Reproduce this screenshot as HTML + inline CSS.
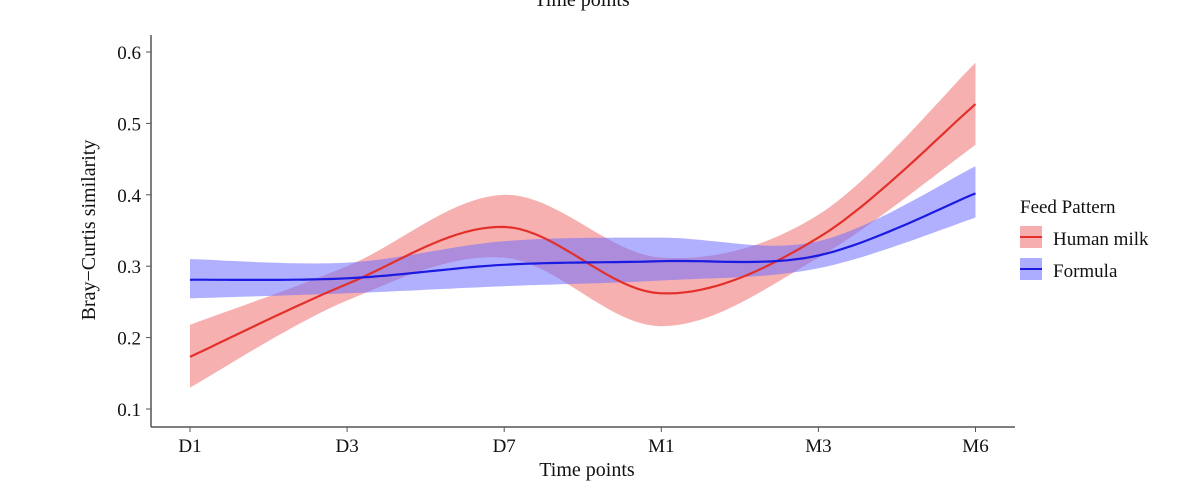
<!DOCTYPE html>
<html><head><meta charset="utf-8"><style>
html,body{margin:0;padding:0;background:#fff;width:1200px;height:499px;overflow:hidden}
svg text{font-family:"Liberation Serif",serif;fill:#111}
</style></head><body>
<svg id="chart" width="1200" height="499" xmlns="http://www.w3.org/2000/svg">
<text x="582" y="6" font-size="20" text-anchor="middle">Time points</text>
<g id="plot"></g>
<line x1="151" y1="35" x2="151" y2="427" stroke="#555" stroke-width="1.5"/>
<line x1="151" y1="427" x2="1015" y2="427" stroke="#555" stroke-width="1.5"/>
<g id="yticks"></g>
<g id="xticks"></g>
<text x="587" y="476" font-size="20" text-anchor="middle">Time points</text>
<text transform="translate(95,230) rotate(-90)" font-size="20" text-anchor="middle">Bray−Curtis similarity</text>
<g>
<text x="1020" y="213" font-size="19">Feed Pattern</text>
<g>
<rect x="1020" y="226" width="22" height="22" fill="#ee7777" opacity="0.6"/>
<line x1="1020" y1="237" x2="1042" y2="237" stroke="#e3302b" stroke-width="2"/>
<text x="1053" y="245" font-size="19">Human milk</text></g>
<g>
<rect x="1020" y="258" width="22" height="22" fill="#7777ff" opacity="0.6"/>
<line x1="1020" y1="269" x2="1042" y2="269" stroke="#1a1ae0" stroke-width="2"/>
<text x="1053" y="277" font-size="19">Formula</text></g>
</g>
</svg>
<script>
const categories=["D1","D3","D7","M1","M3","M6"];
const yTicks=[0.1,0.2,0.3,0.4,0.5,0.6];
const milkMean=[0.173,0.275,0.355,0.262,0.34,0.527];
const milkLow=[0.130,0.252,0.312,0.216,0.312,0.470];
const milkHigh=[0.218,0.300,0.400,0.312,0.372,0.585];
const formMean=[0.281,0.283,0.302,0.307,0.315,0.402];
const formLow=[0.255,0.262,0.272,0.280,0.297,0.368];
const formHigh=[0.310,0.305,0.335,0.340,0.335,0.440];

const X0=190,XS=157.1;
function xScale(i){return X0+i*XS;}
function yScale(v){return 409-(v-0.1)*714;}
const NS="http://www.w3.org/2000/svg";
function smooth(vals){
  const p=vals.map((v,i)=>[xScale(i),yScale(v)]);
  const out=[];
  for(let i=0;i<p.length-1;i++){
    const p0=p[Math.max(0,i-1)],p1=p[i],p2=p[i+1],p3=p[Math.min(p.length-1,i+2)];
    for(let t=0;t<1;t+=0.05){
      const t2=t*t,t3=t2*t;
      const f=(a,b,c,d)=>0.5*(2*b+(-a+c)*t+(2*a-5*b+4*c-d)*t2+(-a+3*b-3*c+d)*t3);
      out.push([f(p0[0],p1[0],p2[0],p3[0]),f(p0[1],p1[1],p2[1],p3[1])]);
    }
  }
  out.push(p[p.length-1]);return out;
}
const plot=document.getElementById('plot');
function band(lo,hi,fill,name){
  const a=smooth(hi),b=smooth(lo).reverse();
  const el=document.createElementNS(NS,'path');
  el.setAttribute('d','M'+a.concat(b).map(q=>q[0].toFixed(1)+','+q[1].toFixed(1)).join('L')+'Z');
  el.setAttribute('fill',fill);el.setAttribute('opacity','0.55');
  
  
  plot.appendChild(el);
}
function line(vals,stroke,name){
  const el=document.createElementNS(NS,'path');
  el.setAttribute('d','M'+smooth(vals).map(q=>q[0].toFixed(1)+','+q[1].toFixed(1)).join('L'));
  el.setAttribute('fill','none');el.setAttribute('stroke',stroke);el.setAttribute('stroke-width','2.2');
  
  
  plot.appendChild(el);
}
band(milkLow,milkHigh,'#ee7070','human-milk-ci-band');
band(formLow,formHigh,'#7070ff','formula-ci-band');
line(milkMean,'#e3302b','human-milk-line');
line(formMean,'#1a1ae0','formula-line');
const yt=document.getElementById('yticks');
yTicks.forEach(v=>{
  const y=yScale(v);
  const l=document.createElementNS(NS,'line');
  l.setAttribute('x1',146);l.setAttribute('x2',151);l.setAttribute('y1',y);l.setAttribute('y2',y);l.setAttribute('stroke','#555');
  
  
  yt.appendChild(l);
  const t=document.createElementNS(NS,'text');
  t.setAttribute('x',141);t.setAttribute('y',y+7);t.setAttribute('font-size','19');t.setAttribute('text-anchor','end');
  t.textContent=v.toFixed(1);
  
  
  yt.appendChild(t);
});
const xt=document.getElementById('xticks');
categories.forEach((c,i)=>{
  const x=xScale(i);
  const l=document.createElementNS(NS,'line');
  l.setAttribute('x1',x);l.setAttribute('x2',x);l.setAttribute('y1',427);l.setAttribute('y2',432);l.setAttribute('stroke','#555');
  
  
  xt.appendChild(l);
  const t=document.createElementNS(NS,'text');
  t.setAttribute('x',x);t.setAttribute('y',452);t.setAttribute('font-size','19');t.setAttribute('text-anchor','middle');
  t.textContent=c;
  
  
  xt.appendChild(t);
});
</script>
</body></html>
